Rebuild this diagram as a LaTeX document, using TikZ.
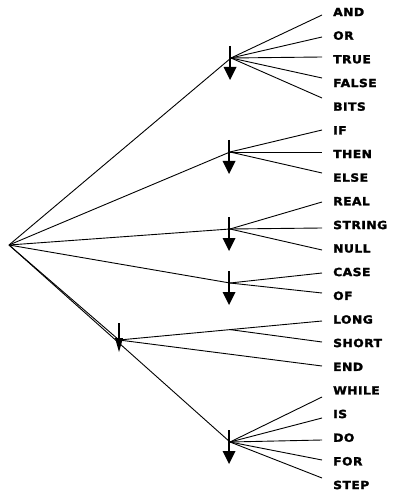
\documentclass[tikz,border=0pt]{standalone}
\usepackage{fontspec}
\usetikzlibrary{calc}
\newfontfamily\labfont[FakeStretch=1.1,LetterSpace=4,FakeBold=2.2]{DejaVu Sans Bold}
\begin{document}
\begin{tikzpicture}[x=1pt,y=-1pt,
  lbl/.style={anchor=west,inner sep=0pt,font=\labfont\fontsize{11.2}{11.2}\selectfont},
  wire/.style={line width=0.9pt},
  darr/.pic={\draw[line width=1.6pt] (-1,-12) -- (-1,10);
             \fill (-7.5,9) -- (5.5,9) -- (-1,22) -- cycle;},
  sdarr/.pic={\draw[line width=1.6pt] (0,-17) -- (0,0);
             \fill (-4,-2) -- (4,-2) -- (0,12) -- cycle;}]
\useasboundingbox (0,0) rectangle (392,494);
% root and junctions
\coordinate (r) at (9,245);
\coordinate (j1) at (231,58);
\coordinate (j2) at (230,152);
\coordinate (j3) at (230,229);
\coordinate (j4) at (230,283);
\coordinate (j5) at (119,340);
\coordinate (j6) at (230,442);
% labels and line ends
\foreach \w/\ly/\ey in {AND/12/15, OR/35.6/37, TRUE/59.3/57, FALSE/83/78, BITS/106.6/98,
  IF/130.3/130, THEN/154/152, ELSE/177.6/173, REAL/201.2/202, STRING/225/228, NULL/248.5/250,
  CASE/272/273, OF/295.8/293, LONG/319.5/321, SHORT/343/342, END/366.8/366,
  WHILE/390.4/397, IS/414/418, DO/437.7/440, FOR/461.3/460, STEP/485/478} {
  \node[lbl] (n-\w) at (333,\ly) {\w};
  \coordinate (e-\w) at (322,\ey);
}
\coordinate (s) at ($(j5)!0.547!(e-LONG)$);
% root branches
\foreach \j in {j1,j2,j3,j4,j5,j6} \draw[wire] (r) -- (\j);
% leaf branches
\foreach \w/\j in {AND/j1, OR/j1, TRUE/j1, FALSE/j1, BITS/j1,
  IF/j2, THEN/j2, ELSE/j2, REAL/j3, STRING/j3, NULL/j3,
  CASE/j4, OF/j4, LONG/j5, SHORT/s, END/j5,
  WHILE/j6, IS/j6, DO/j6, FOR/j6, STEP/j6}
  \draw[wire] (\j) -- (e-\w);
% down arrows
\pic at (j1) {darr};
\pic at (j2) {darr};
\pic at (j3) {darr};
\pic at (j4) {darr};
\pic at (j5) {sdarr};
\pic at (j6) {darr};
\end{tikzpicture}
\end{document}
